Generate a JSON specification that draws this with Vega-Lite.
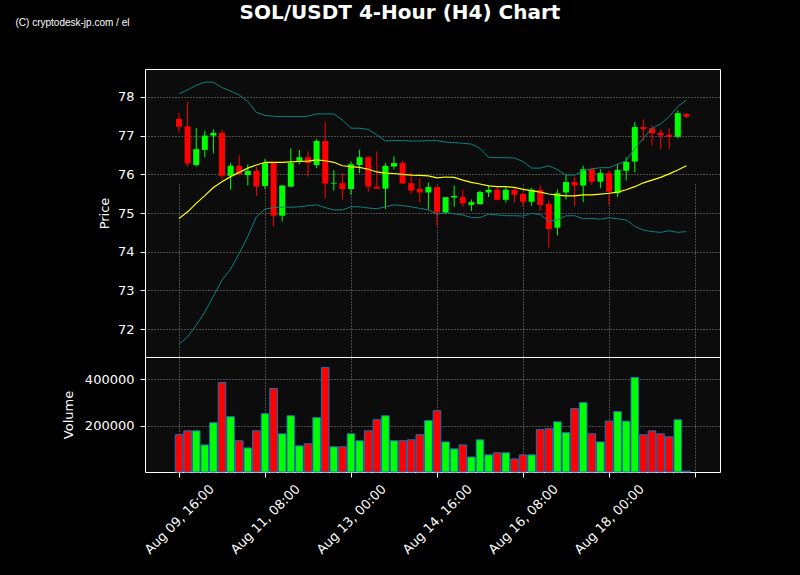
{
  "$schema": "https://vega.github.io/schema/vega-lite/v6.json",
  "autosize": "none",
  "padding": {"left": 145, "top": 69, "right": 80, "bottom": 103},
  "width": 575,
  "height": 403,
  "background": "#000000",
  "title": {
    "text": "SOL/USDT 4-Hour (H4) Chart",
    "anchor": "middle",
    "frame": "group",
    "dx": -32.5,
    "dy": 10,
    "font": "DejaVu Sans",
    "fontSize": 20,
    "fontWeight": "bold",
    "color": "#ffffff"
  },
  "config": {
    "view": {"fill": "#0c0c0c", "stroke": "#ffffff", "strokeWidth": 1},
    "axis": {
      "labelFont": "DejaVu Sans",
      "labelFontSize": 13,
      "labelColor": "#ffffff",
      "tickColor": "#ffffff",
      "tickSize": 5,
      "domain": false,
      "gridColor": "#8a8a8a",
      "gridDash": [1, 2],
      "gridWidth": 1,
      "titleFont": "DejaVu Sans",
      "titleFontSize": 13,
      "titleFontWeight": "normal",
      "titleColor": "#ffffff"
    }
  },
  "data": {
    "values": [
      {"t": "2025-08-09T16:00:00Z", "open": 77.43, "high": 77.59, "low": 77.07, "close": 77.23, "volume": 161000, "ma": 74.86, "upper": 78.08, "lower": 71.61},
      {"t": "2025-08-09T20:00:00Z", "open": 77.24, "high": 77.86, "low": 76.20, "close": 76.28, "volume": 178000, "ma": 75.03, "upper": 78.18, "lower": 71.80},
      {"t": "2025-08-10T00:00:00Z", "open": 76.24, "high": 77.19, "low": 76.20, "close": 76.65, "volume": 178000, "ma": 75.25, "upper": 78.30, "lower": 72.10},
      {"t": "2025-08-10T04:00:00Z", "open": 76.63, "high": 77.12, "low": 76.44, "close": 77.00, "volume": 117000, "ma": 75.45, "upper": 78.38, "lower": 72.44},
      {"t": "2025-08-10T08:00:00Z", "open": 77.00, "high": 77.16, "low": 76.54, "close": 77.07, "volume": 213000, "ma": 75.66, "upper": 78.38, "lower": 72.85},
      {"t": "2025-08-10T12:00:00Z", "open": 77.07, "high": 77.15, "low": 75.85, "close": 75.96, "volume": 387000, "ma": 75.81, "upper": 78.24, "lower": 73.27},
      {"t": "2025-08-10T16:00:00Z", "open": 75.96, "high": 76.29, "low": 75.60, "close": 76.22, "volume": 239000, "ma": 75.94, "upper": 78.15, "lower": 73.55},
      {"t": "2025-08-10T20:00:00Z", "open": 76.22, "high": 76.49, "low": 75.98, "close": 76.00, "volume": 135000, "ma": 76.05, "upper": 78.05, "lower": 73.95},
      {"t": "2025-08-11T00:00:00Z", "open": 75.98, "high": 76.26, "low": 75.71, "close": 76.09, "volume": 104000, "ma": 76.16, "upper": 77.88, "lower": 74.40},
      {"t": "2025-08-11T04:00:00Z", "open": 76.09, "high": 76.20, "low": 75.44, "close": 75.68, "volume": 178000, "ma": 76.24, "upper": 77.60, "lower": 74.90},
      {"t": "2025-08-11T08:00:00Z", "open": 75.70, "high": 76.40, "low": 75.62, "close": 76.29, "volume": 252000, "ma": 76.31, "upper": 77.52, "lower": 75.10},
      {"t": "2025-08-11T12:00:00Z", "open": 76.29, "high": 76.30, "low": 74.65, "close": 74.93, "volume": 361000, "ma": 76.31, "upper": 77.50, "lower": 75.14},
      {"t": "2025-08-11T16:00:00Z", "open": 74.93, "high": 75.72, "low": 74.78, "close": 75.71, "volume": 165000, "ma": 76.31, "upper": 77.49, "lower": 75.15},
      {"t": "2025-08-11T20:00:00Z", "open": 75.68, "high": 76.67, "low": 75.68, "close": 76.29, "volume": 243000, "ma": 76.32, "upper": 77.49, "lower": 75.15},
      {"t": "2025-08-12T00:00:00Z", "open": 76.33, "high": 76.63, "low": 76.26, "close": 76.44, "volume": 113000, "ma": 76.33, "upper": 77.49, "lower": 75.16},
      {"t": "2025-08-12T04:00:00Z", "open": 76.44, "high": 76.59, "low": 75.94, "close": 76.29, "volume": 122000, "ma": 76.34, "upper": 77.50, "lower": 75.19},
      {"t": "2025-08-12T08:00:00Z", "open": 76.24, "high": 76.91, "low": 76.16, "close": 76.86, "volume": 235000, "ma": 76.37, "upper": 77.56, "lower": 75.21},
      {"t": "2025-08-12T12:00:00Z", "open": 76.86, "high": 77.35, "low": 75.38, "close": 75.76, "volume": 452000, "ma": 76.35, "upper": 77.56, "lower": 75.14},
      {"t": "2025-08-12T16:00:00Z", "open": 75.76, "high": 76.11, "low": 75.58, "close": 75.78, "volume": 109000, "ma": 76.31, "upper": 77.56, "lower": 75.08},
      {"t": "2025-08-12T20:00:00Z", "open": 75.77, "high": 76.03, "low": 75.35, "close": 75.62, "volume": 109000, "ma": 76.22, "upper": 77.40, "lower": 75.08},
      {"t": "2025-08-13T00:00:00Z", "open": 75.62, "high": 76.33, "low": 75.47, "close": 76.26, "volume": 165000, "ma": 76.20, "upper": 77.19, "lower": 75.16},
      {"t": "2025-08-13T04:00:00Z", "open": 76.24, "high": 76.63, "low": 76.03, "close": 76.44, "volume": 135000, "ma": 76.18, "upper": 77.19, "lower": 75.16},
      {"t": "2025-08-13T08:00:00Z", "open": 76.44, "high": 76.48, "low": 75.55, "close": 75.68, "volume": 178000, "ma": 76.13, "upper": 77.16, "lower": 75.13},
      {"t": "2025-08-13T12:00:00Z", "open": 75.68, "high": 76.59, "low": 75.63, "close": 75.63, "volume": 226000, "ma": 76.06, "upper": 77.02, "lower": 75.11},
      {"t": "2025-08-13T16:00:00Z", "open": 75.63, "high": 76.29, "low": 75.10, "close": 76.22, "volume": 243000, "ma": 76.03, "upper": 76.86, "lower": 75.16},
      {"t": "2025-08-13T20:00:00Z", "open": 76.20, "high": 76.46, "low": 76.13, "close": 76.29, "volume": 135000, "ma": 76.02, "upper": 76.87, "lower": 75.21},
      {"t": "2025-08-14T00:00:00Z", "open": 76.29, "high": 76.35, "low": 75.76, "close": 75.76, "volume": 135000, "ma": 76.00, "upper": 76.87, "lower": 75.19},
      {"t": "2025-08-14T04:00:00Z", "open": 75.77, "high": 76.05, "low": 75.49, "close": 75.58, "volume": 139000, "ma": 75.98, "upper": 76.86, "lower": 75.16},
      {"t": "2025-08-14T08:00:00Z", "open": 75.62, "high": 75.90, "low": 75.27, "close": 75.53, "volume": 161000, "ma": 75.97, "upper": 76.86, "lower": 75.12},
      {"t": "2025-08-14T12:00:00Z", "open": 75.53, "high": 75.79, "low": 75.08, "close": 75.67, "volume": 222000, "ma": 75.96, "upper": 76.87, "lower": 75.08},
      {"t": "2025-08-14T16:00:00Z", "open": 75.67, "high": 75.68, "low": 74.67, "close": 75.01, "volume": 265000, "ma": 75.91, "upper": 76.87, "lower": 74.97},
      {"t": "2025-08-14T20:00:00Z", "open": 75.01, "high": 75.41, "low": 74.97, "close": 75.41, "volume": 130000, "ma": 75.93, "upper": 76.83, "lower": 75.01},
      {"t": "2025-08-15T00:00:00Z", "open": 75.40, "high": 75.71, "low": 75.16, "close": 75.44, "volume": 100000, "ma": 75.92, "upper": 76.82, "lower": 74.98},
      {"t": "2025-08-15T04:00:00Z", "open": 75.41, "high": 75.61, "low": 75.16, "close": 75.25, "volume": 117000, "ma": 75.85, "upper": 76.80, "lower": 74.95},
      {"t": "2025-08-15T08:00:00Z", "open": 75.21, "high": 75.35, "low": 75.05, "close": 75.28, "volume": 65000, "ma": 75.79, "upper": 76.78, "lower": 74.88},
      {"t": "2025-08-15T12:00:00Z", "open": 75.23, "high": 75.58, "low": 75.21, "close": 75.54, "volume": 139000, "ma": 75.75, "upper": 76.67, "lower": 74.88},
      {"t": "2025-08-15T16:00:00Z", "open": 75.53, "high": 75.71, "low": 75.41, "close": 75.60, "volume": 74000, "ma": 75.70, "upper": 76.44, "lower": 74.97},
      {"t": "2025-08-15T20:00:00Z", "open": 75.60, "high": 75.68, "low": 75.32, "close": 75.34, "volume": 83000, "ma": 75.68, "upper": 76.43, "lower": 74.95},
      {"t": "2025-08-16T00:00:00Z", "open": 75.34, "high": 75.66, "low": 75.27, "close": 75.60, "volume": 83000, "ma": 75.68, "upper": 76.43, "lower": 74.93},
      {"t": "2025-08-16T04:00:00Z", "open": 75.60, "high": 75.66, "low": 75.27, "close": 75.47, "volume": 56500, "ma": 75.66, "upper": 76.42, "lower": 74.93},
      {"t": "2025-08-16T08:00:00Z", "open": 75.49, "high": 75.53, "low": 75.16, "close": 75.29, "volume": 74000, "ma": 75.61, "upper": 76.33, "lower": 74.92},
      {"t": "2025-08-16T12:00:00Z", "open": 75.29, "high": 75.65, "low": 75.19, "close": 75.60, "volume": 74000, "ma": 75.58, "upper": 76.16, "lower": 74.99},
      {"t": "2025-08-16T16:00:00Z", "open": 75.60, "high": 75.71, "low": 75.05, "close": 75.21, "volume": 183000, "ma": 75.54, "upper": 76.16, "lower": 74.96},
      {"t": "2025-08-16T20:00:00Z", "open": 75.23, "high": 75.32, "low": 74.11, "close": 74.59, "volume": 187000, "ma": 75.49, "upper": 76.22, "lower": 74.78},
      {"t": "2025-08-17T00:00:00Z", "open": 74.62, "high": 75.61, "low": 74.42, "close": 75.51, "volume": 217000, "ma": 75.46, "upper": 76.12, "lower": 74.82},
      {"t": "2025-08-17T04:00:00Z", "open": 75.53, "high": 76.00, "low": 75.35, "close": 75.80, "volume": 170000, "ma": 75.44, "upper": 75.98, "lower": 74.93},
      {"t": "2025-08-17T08:00:00Z", "open": 75.80, "high": 75.94, "low": 75.18, "close": 75.71, "volume": 274000, "ma": 75.44, "upper": 75.98, "lower": 74.93},
      {"t": "2025-08-17T12:00:00Z", "open": 75.71, "high": 76.22, "low": 75.28, "close": 76.13, "volume": 300000, "ma": 75.47, "upper": 76.09, "lower": 74.85},
      {"t": "2025-08-17T16:00:00Z", "open": 76.13, "high": 76.18, "low": 75.72, "close": 75.81, "volume": 165000, "ma": 75.47, "upper": 76.14, "lower": 74.86},
      {"t": "2025-08-17T20:00:00Z", "open": 75.81, "high": 76.13, "low": 75.64, "close": 76.03, "volume": 130000, "ma": 75.49, "upper": 76.17, "lower": 74.84},
      {"t": "2025-08-18T00:00:00Z", "open": 76.03, "high": 76.11, "low": 75.21, "close": 75.55, "volume": 220000, "ma": 75.51, "upper": 76.17, "lower": 74.88},
      {"t": "2025-08-18T04:00:00Z", "open": 75.51, "high": 76.27, "low": 75.41, "close": 76.11, "volume": 261000, "ma": 75.54, "upper": 76.26, "lower": 74.85},
      {"t": "2025-08-18T08:00:00Z", "open": 76.09, "high": 76.44, "low": 75.84, "close": 76.32, "volume": 220000, "ma": 75.60, "upper": 76.35, "lower": 74.82},
      {"t": "2025-08-18T12:00:00Z", "open": 76.33, "high": 77.35, "low": 76.05, "close": 77.22, "volume": 409000, "ma": 75.68, "upper": 76.67, "lower": 74.65},
      {"t": "2025-08-18T16:00:00Z", "open": 77.22, "high": 77.42, "low": 76.86, "close": 77.17, "volume": 161000, "ma": 75.78, "upper": 76.93, "lower": 74.56},
      {"t": "2025-08-18T20:00:00Z", "open": 77.19, "high": 77.26, "low": 76.74, "close": 77.06, "volume": 178000, "ma": 75.85, "upper": 77.19, "lower": 74.52},
      {"t": "2025-08-19T00:00:00Z", "open": 77.07, "high": 77.15, "low": 76.65, "close": 77.01, "volume": 165000, "ma": 75.92, "upper": 77.30, "lower": 74.50},
      {"t": "2025-08-19T04:00:00Z", "open": 77.02, "high": 77.19, "low": 76.65, "close": 76.97, "volume": 152000, "ma": 76.01, "upper": 77.49, "lower": 74.54},
      {"t": "2025-08-19T08:00:00Z", "open": 76.97, "high": 77.65, "low": 76.93, "close": 77.58, "volume": 226000, "ma": 76.11, "upper": 77.75, "lower": 74.50},
      {"t": "2025-08-19T12:00:00Z", "open": 77.56, "high": 77.58, "low": 77.45, "close": 77.49, "volume": 4000, "ma": 76.22, "upper": 77.92, "lower": 74.52}
    ]
  },
  "layer": [
    {
      "encoding": {
        "x": {
          "field": "t",
          "type": "temporal",
          "scale": {
            "type": "utc",
            "padding": 0,
            "domain": [
              {"year": 2025, "month": 8, "date": 9, "hours": 0, "minutes": 11, "utc": true},
              {"year": 2025, "month": 8, "date": 20, "hours": 3, "minutes": 38, "utc": true}
            ]
          },
          "axis": {
            "values": [
              {"year": 2025, "month": 8, "date": 9, "hours": 16, "utc": true},
              {"year": 2025, "month": 8, "date": 11, "hours": 8, "utc": true},
              {"year": 2025, "month": 8, "date": 13, "hours": 0, "utc": true},
              {"year": 2025, "month": 8, "date": 14, "hours": 16, "utc": true},
              {"year": 2025, "month": 8, "date": 16, "hours": 8, "utc": true},
              {"year": 2025, "month": 8, "date": 18, "hours": 0, "utc": true},
              {"year": 2025, "month": 8, "date": 19, "hours": 16, "utc": true}
            ],
            "labelExpr": "datum.value >= utc(2025, 7, 19) ? '' : utcFormat(datum.value, '%b %d, %H:%M')",
            "labelAngle": -45,
            "labelAlign": "center",
            "labelBaseline": "middle",
            "labelPadding": 42,
            "labelOverlap": false,
            "grid": true,
            "title": "(C) cryptodesk-jp.com / el",
            "titleFont": "Liberation Sans",
            "titleFontSize": 10,
            "titleAngle": 0,
            "titleAlign": "left",
            "titleBaseline": "alphabetic",
            "titleAnchor": null,
            "titleX": -130,
            "titleY": -447
          }
        }
      },
      "layer": [
        {
          "mark": {"type": "rule", "strokeWidth": 1},
          "encoding": {
            "y": {
              "field": "low",
              "type": "quantitative",
              "scale": {"domain": [71.28, 78.72], "range": [288, 0], "zero": false, "nice": false},
              "axis": {"title": "Price", "values": [72, 73, 74, 75, 76, 77, 78], "format": "d", "grid": true, "titleX": -37, "titleY": 144, "titleBaseline": "alphabetic", "titleAngle": -90, "labelPadding": 6}
            },
            "y2": {"field": "high"},
            "color": {"condition": {"test": "datum.close >= datum.open", "value": "#00ff00"}, "value": "#ff0000"}
          }
        },
        {
          "mark": {"type": "bar", "size": 6},
          "encoding": {
            "y": {"field": "open", "type": "quantitative"},
            "y2": {"field": "close"},
            "color": {"condition": {"test": "datum.close >= datum.open", "value": "#00ff00"}, "value": "#ff0000"}
          }
        },
        {
          "mark": {"type": "line", "color": "#0f8080", "strokeWidth": 1},
          "encoding": {"y": {"field": "upper", "type": "quantitative"}}
        },
        {
          "mark": {"type": "line", "color": "#0f8080", "strokeWidth": 1},
          "encoding": {"y": {"field": "lower", "type": "quantitative"}}
        },
        {
          "mark": {"type": "line", "color": "#ffff00", "strokeWidth": 1.2},
          "encoding": {"y": {"field": "ma", "type": "quantitative"}}
        }
      ]
    },
    {
      "layer": [
        {
          "mark": {"type": "bar", "size": 7.6, "stroke": "#1f6fb4", "strokeWidth": 1},
          "encoding": {
            "x": {"field": "t", "type": "temporal"},
            "y": {
              "field": "volume",
              "type": "quantitative",
              "scale": {"domain": [0, 497000], "range": [403, 288], "nice": false},
              "axis": {"title": "Volume", "orient": "left", "values": [200000, 400000], "format": "d", "grid": true, "titleX": -73, "titleY": 345.5, "titleBaseline": "alphabetic", "titleAngle": -90, "labelPadding": 6}
            },
            "color": {"condition": {"test": "datum.close >= datum.open", "value": "#00ff00"}, "value": "#ff0000"}
          }
        },
        {
          "data": {"values": [{"edge": 494840}]},
          "mark": {"type": "rule", "color": "#ffffff", "strokeWidth": 1},
          "encoding": {
            "y": {"field": "edge", "type": "quantitative"}
          }
        }
      ]
    }
  ],
  "resolve": {"scale": {"y": "independent"}, "axis": {"y": "independent"}}
}
